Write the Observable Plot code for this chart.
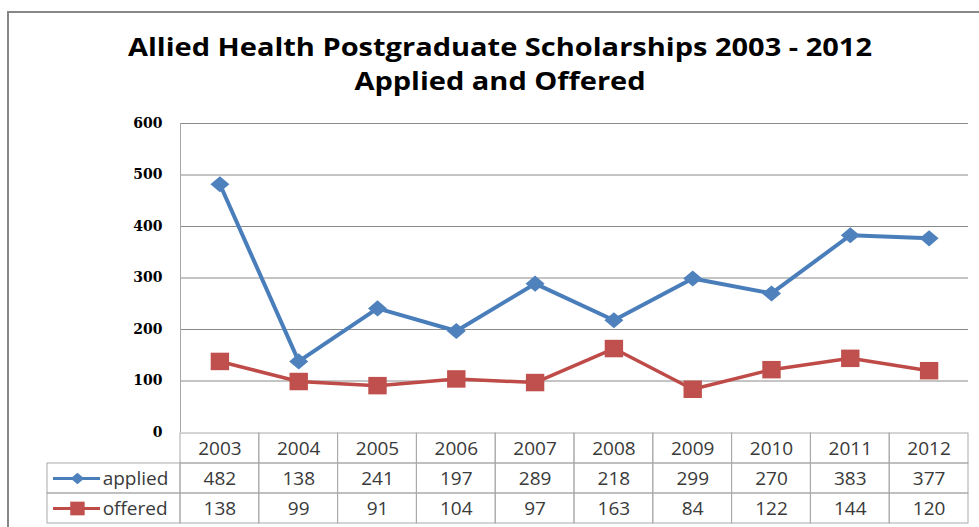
<!DOCTYPE html>
<html><head><meta charset="utf-8">
<script src="https://cdn.jsdelivr.net/npm/d3@7"></script>
<script src="https://cdn.jsdelivr.net/npm/@observablehq/plot@0.6"></script>
<style>
html,body{margin:0;padding:0;background:#fff;}
#wrap{position:relative;width:979px;height:527px;overflow:hidden;background:#fff;}
#frame{position:absolute;left:7px;top:11px;width:990px;height:540px;border-top:2px solid #878787;border-left:2px solid #878787;box-sizing:border-box;}
#title{position:absolute;left:0;top:29px;width:1000px;text-align:center;font-family:"Open Sans";font-weight:bold;font-size:25px;line-height:34px;color:#000;transform:scaleX(1.16);transform-origin:500px 0;}
#chart{position:absolute;left:0;top:108px;}
#table{position:absolute;left:0;top:431px;}
svg{overflow:visible;}
</style></head><body>
<div id="wrap">
  <div id="frame"></div>
  <div id="title">Allied Health Postgraduate Scholarships 2003 - 2012<br>Applied and Offered</div>
  <div id="chart"></div>
  <div id="table"></div>
</div>
<script>
const years = [2003, 2004, 2005, 2006, 2007, 2008, 2009, 2010, 2011, 2012];
const applied = [482, 138, 241, 197, 289, 218, 299, 270, 383, 377];
const offered = [138, 99, 91, 104, 97, 163, 84, 122, 144, 120];
const seriesNames = ["applied", "offered"];
const rowNames = ["year", "applied", "offered"];
const yTicks = [0, 100, 200, 300, 400, 500, 600];

const colors = {applied: "#4a7ebb", offered: "#be4b48"};
const markerFill = {applied: "#4f81bd", offered: "#c0504d"};

// custom symbols (slightly wide, like the stretched reference)
const diamondSym = {draw(ctx, size) {
  const s = Math.sqrt(size / Math.PI), w = s, h = s * 0.85;
  ctx.moveTo(0, -h); ctx.lineTo(w, 0); ctx.lineTo(0, h); ctx.lineTo(-w, 0); ctx.closePath();
}};
const squareSym = {draw(ctx, size) {
  const s = Math.sqrt(size / Math.PI), w = s, h = s * 0.95;
  ctx.moveTo(-w, -h); ctx.lineTo(w, -h); ctx.lineTo(w, h); ctx.lineTo(-w, h); ctx.closePath();
}};
const symbols = {applied: diamondSym, offered: squareSym};

const series = {applied, offered};
const points = seriesNames.flatMap(name => years.map((year, i) => ({name, year, value: series[name][i]})));

const xDomain = [years[0] - 0.5, years[years.length - 1] + 0.5];
const W = 979, ML = 180, MR = 11;
const legendCols = 133 / ((W - ML - MR) / years.length); // legend column width, in year columns
const legLeft = xDomain[0] - legendCols;

const chart = Plot.plot({
  width: W, height: 332,
  marginLeft: ML, marginRight: MR, marginTop: 15, marginBottom: 8,
  style: {background: "transparent", overflow: "visible"},
  x: {domain: xDomain, axis: null},
  y: {domain: [0, 600], axis: null},
  marks: [
    Plot.ruleY(yTicks.filter(d => d > 0), {stroke: "#8a8a8a", strokeWidth: 1}),
    Plot.ruleX([xDomain[0]], {stroke: "#a6a6a6", strokeWidth: 1}),
    Plot.axisY(yTicks, {tickSize: 0, tickPadding: 18, fontFamily: "DejaVu Serif", fontWeight: "bold", fontSize: 14, fill: "#000", label: null}),
    ...seriesNames.map(name => Plot.line(points.filter(d => d.name === name), {
      x: "year", y: "value", stroke: colors[name], strokeWidth: name === "applied" ? 4 : 3.5, strokeLinejoin: "round"
    })),
    ...seriesNames.map(name => Plot.dot(points.filter(d => d.name === name), {
      x: "year", y: "value", symbol: symbols[name], r: name === "applied" ? 9.5 : 9.2, fill: markerFill[name], stroke: "none"
    }))
  ]
});
document.getElementById("chart").append(chart);

const cells = years.flatMap((year, i) => [
  {year, row: "year", label: String(year)},
  {year, row: "applied", label: String(applied[i])},
  {year, row: "offered", label: String(offered[i])}
]);
const legend = seriesNames.map(name => ({name}));

const table = Plot.plot({
  width: W, height: 96,
  marginLeft: ML, marginRight: MR, marginTop: 1, marginBottom: 3,
  style: {background: "transparent", overflow: "visible"},
  x: {domain: xDomain, axis: null},
  y: {type: "band", domain: rowNames, padding: 0, axis: null},
  marks: [
    Plot.barX(cells, {x1: d => d.year - 0.5, x2: d => d.year + 0.5, y: "row", fill: "none", stroke: "#a9a9a9", strokeWidth: 1, inset: 0}),
    Plot.barX(legend, {x1: legLeft, x2: xDomain[0], y: "name", fill: "none", stroke: "#a9a9a9", strokeWidth: 1, inset: 0}),
    Plot.text(cells, {x: "year", y: "row", text: "label", fontFamily: "Open Sans", fontSize: 19, fill: "#3a3a3a"}),
    Plot.ruleY(legend, {y: "name", x1: legLeft + 0.076, x2: legLeft + 0.673, stroke: d => colors[d.name], strokeWidth: 3}),
    ...seriesNames.map(name => Plot.dot([{name}], {
      x: legLeft + 0.38, y: "name", symbol: symbols[name], r: name === "applied" ? 6.8 : 7.2, fill: markerFill[name], stroke: "none"
    })),
    Plot.text(legend, {x: legLeft + 0.70, y: "name", text: "name", textAnchor: "start", fontFamily: "Open Sans", fontSize: 19, fill: "#3a3a3a"})
  ]
});
document.getElementById("table").append(table);
</script>
</body></html>
